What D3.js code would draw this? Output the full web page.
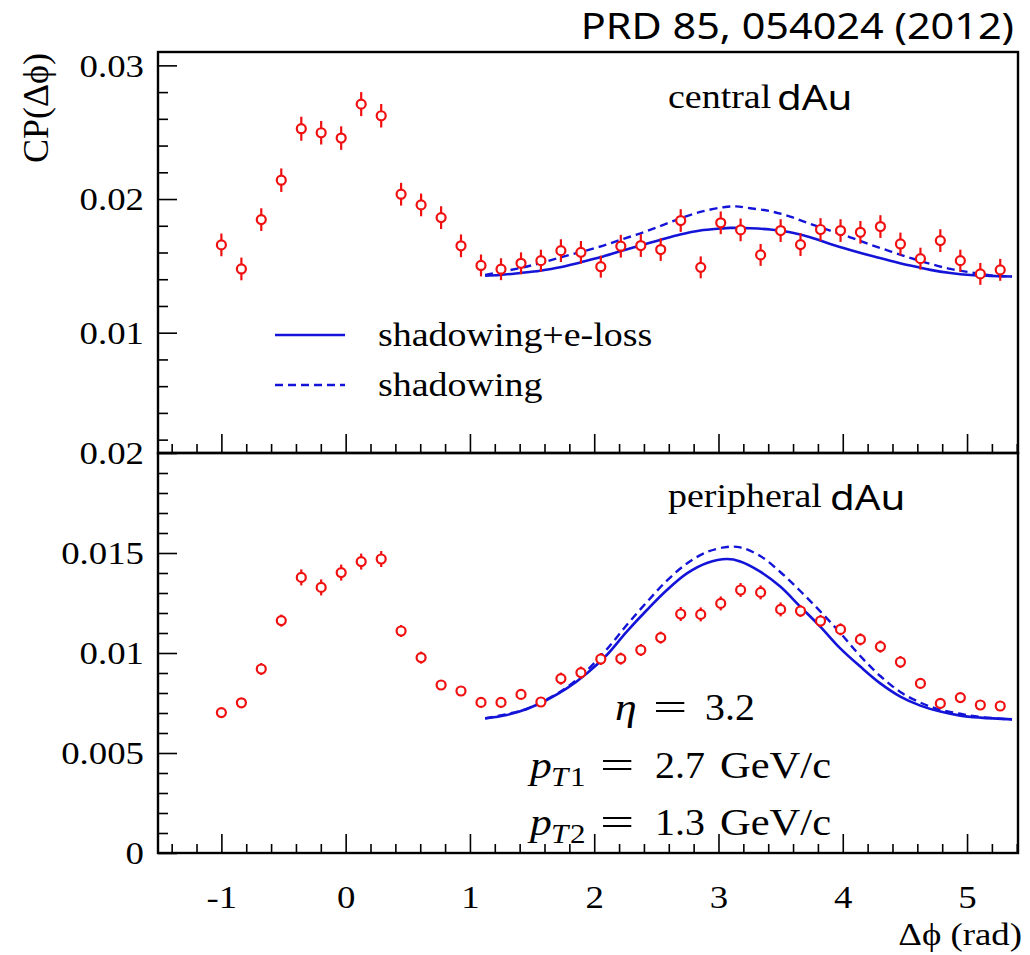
<!DOCTYPE html>
<html>
<head>
<meta charset="utf-8">
<script src="https://cdn.jsdelivr.net/npm/d3@7"></script>
<style>
  body { margin: 0; background: #fff; }
  svg { display: block; }
</style>
</head>
<body>
<svg id="graph"></svg>
<script>
// bin centres in delta phi (rad)
var phiBins = [-1.000, -0.839, -0.679, -0.518, -0.357, -0.197, -0.036, 0.125, 0.286, 0.446,
  0.607, 0.768, 0.928, 1.089, 1.250, 1.411, 1.571, 1.732, 1.893, 2.053,
  2.214, 2.375, 2.535, 2.696, 2.857, 3.018, 3.178, 3.339, 3.500, 3.660,
  3.821, 3.982, 4.142, 4.303, 4.464, 4.625, 4.785, 4.946, 5.107, 5.267];

// central dAu points
var centralCP = [0.01657, 0.01477, 0.01846, 0.02141, 0.02526, 0.02496, 0.02456, 0.02710, 0.02623, 0.02036,
  0.01956, 0.01861, 0.01650, 0.01503, 0.01475, 0.01519, 0.01539, 0.01614, 0.01601, 0.01494,
  0.01647, 0.01652, 0.01622, 0.01839, 0.01489, 0.01822, 0.01769, 0.01582, 0.01764, 0.01659,
  0.01772, 0.01764, 0.01751, 0.01794, 0.01664, 0.01554, 0.01689, 0.01539, 0.01440, 0.01470];
var centralErr = [0.00085, 0.00085, 0.00085, 0.00088, 0.00090, 0.00088, 0.00088, 0.00090, 0.00088, 0.00085,
  0.00085, 0.00085, 0.00085, 0.00082, 0.00082, 0.00082, 0.00082, 0.00085, 0.00085, 0.00082,
  0.00085, 0.00085, 0.00085, 0.00085, 0.00082, 0.00085, 0.00085, 0.00082, 0.00085, 0.00085,
  0.00085, 0.00085, 0.00085, 0.00085, 0.00085, 0.00082, 0.00085, 0.00082, 0.00082, 0.00082];

// peripheral dAu points
var periphCP = [0.00702, 0.00751, 0.00920, 0.01162, 0.01378, 0.01328, 0.01402, 0.01457, 0.01470, 0.01110,
  0.00977, 0.00840, 0.00810, 0.00753, 0.00753, 0.00793, 0.00755, 0.00872, 0.00902, 0.00970,
  0.00972, 0.01015, 0.01077, 0.01195, 0.01193, 0.01248, 0.01315, 0.01303, 0.01218, 0.01210,
  0.01160, 0.01118, 0.01068, 0.01032, 0.00955, 0.00848, 0.00748, 0.00777, 0.00740, 0.00735];
var periphErr = [0.00020, 0.00020, 0.00030, 0.00030, 0.00040, 0.00040, 0.00040, 0.00040, 0.00040, 0.00030,
  0.00030, 0.00025, 0.00025, 0.00025, 0.00025, 0.00025, 0.00025, 0.00030, 0.00030, 0.00030,
  0.00030, 0.00030, 0.00030, 0.00035, 0.00035, 0.00035, 0.00035, 0.00035, 0.00035, 0.00030,
  0.00030, 0.00030, 0.00030, 0.00030, 0.00030, 0.00025, 0.00025, 0.00025, 0.00025, 0.00025];

// model curves, central
var cenSolidX = [1.122, 1.243, 1.404, 1.565, 1.726, 1.887, 2.048, 2.209, 2.370, 2.531, 2.692, 2.853, 3.014, 3.094,
  3.255, 3.416, 3.577, 3.738, 3.899, 4.060, 4.221, 4.382, 4.543, 4.705, 4.866, 5.027, 5.188, 5.362];
var cenSolidY = [0.01427, 0.01432, 0.01447, 0.01464, 0.01489, 0.01526, 0.01564, 0.01609, 0.01652, 0.01694, 0.01734, 0.01764, 0.01779, 0.01784,
  0.01781, 0.01772, 0.01751, 0.01714, 0.01664, 0.01619, 0.01577, 0.01539, 0.01502, 0.01470, 0.01447, 0.01432, 0.01425, 0.01420];
var cenDashX = [1.122, 1.269, 1.430, 1.591, 1.752, 1.913, 2.074, 2.235, 2.396, 2.557, 2.718, 2.879, 3.040, 3.140,
  3.255, 3.416, 3.577, 3.738, 3.899, 4.060, 4.221, 4.382, 4.543, 4.705, 4.866, 5.027, 5.188, 5.362];
var cenDashY = [0.01432, 0.01459, 0.01489, 0.01527, 0.01569, 0.01609, 0.01652, 0.01702, 0.01751, 0.01807, 0.01864, 0.01909, 0.01939, 0.01945,
  0.01931, 0.01909, 0.01869, 0.01814, 0.01764, 0.01714, 0.01659, 0.01609, 0.01560, 0.01515, 0.01477, 0.01452, 0.01429, 0.01420];

// model curves, peripheral
var perSolidX = [1.122, 1.296, 1.457, 1.618, 1.779, 1.940, 2.101, 2.262, 2.424, 2.585, 2.746, 2.907, 3.068, 3.175,
  3.336, 3.497, 3.658, 3.819, 3.980, 4.141, 4.302, 4.463, 4.624, 4.785, 4.946, 5.107, 5.362];
var perSolidY = [0.00673, 0.00690, 0.00720, 0.00765, 0.00823, 0.00898, 0.00990, 0.01107, 0.01215, 0.01315, 0.01398, 0.01450, 0.01470, 0.01458,
  0.01407, 0.01332, 0.01232, 0.01132, 0.01023, 0.00932, 0.00848, 0.00782, 0.00737, 0.00707, 0.00687, 0.00677, 0.00668];
var perDashX = [1.122, 1.457, 1.618, 1.779, 1.940, 2.101, 2.262, 2.424, 2.585, 2.746, 2.907, 3.068, 3.175,
  3.336, 3.497, 3.658, 3.819, 3.980, 4.141, 4.302, 4.463, 4.624, 4.785, 4.946, 5.107, 5.362];
var perDashY = [0.00673, 0.00720, 0.00768, 0.00828, 0.00912, 0.01018, 0.01140, 0.01255, 0.01362, 0.01448, 0.01505, 0.01530, 0.01528,
  0.01485, 0.01405, 0.01310, 0.01208, 0.01100, 0.00985, 0.00885, 0.00805, 0.00752, 0.00716, 0.00696, 0.00680, 0.00668];

var xMajor = [-1, 0, 1, 2, 3, 4, 5];
var topMajor = [0.01, 0.02, 0.03];
var botMajor = [0, 0.005, 0.01, 0.015, 0.02];
var botLabels = ["0", "0.005", "0.01", "0.015", "0.02"];

var W = 1030, H = 955;
var left = 158, right = 1018;
var serif = "'Liberation Serif', 'Times New Roman', serif";
var sans = "'Noto Sans', 'Open Sans', sans-serif";
var red = "#f01010", blue = "#1414d8";

var svg = d3.select("#graph").attr("width", W).attr("height", H);

var x = d3.scaleLinear().domain([-1.51, 5.41]).range([left, right]);
var yTop = d3.scaleLinear().domain([0.001, 0.031]).range([453, 52]);
var yBot = d3.scaleLinear().domain([0, 0.02]).range([853, 453]);

var minorX = d3.range(-1.4, 5.41, 0.2).filter(function(d) { return Math.abs(d - Math.round(d)) > 0.01; });
var minorTop = d3.range(0.002, 0.0305, 0.002).filter(function(d) { return Math.abs(d * 100 - Math.round(d * 100)) > 0.01; });
var minorBot = d3.range(0.001, 0.02, 0.001).filter(function(d) { return Math.abs(d * 200 - Math.round(d * 200)) > 0.01; });

function styleAxis(g, size) {
  g.select(".domain").remove();
  g.selectAll(".tick line").attr("stroke", "#000").attr("stroke-width", 1.6);
  g.selectAll("text").attr("font-family", serif).attr("font-size", size).attr("fill", "#000");
}

function stretch(sel) {
  // the reference is a bit wider than Times, widen the glyphs
  sel.each(function() {
    var t = d3.select(this);
    var tx = +t.attr("x") || 0, ty = +t.attr("y") || 0;
    t.attr("transform", "translate(" + tx + "," + ty + ") scale(1.15,1)").attr("x", 0).attr("y", 0);
  });
}

function txt(str, px, py, size, family, anchor, sx) {
  return svg.append("text")
    .attr("transform", "translate(" + px + "," + py + ") scale(" + (sx || 1.15) + ",1)")
    .attr("font-family", family).attr("font-size", size)
    .attr("text-anchor", anchor || "start").attr("fill", "#000")
    .text(str);
}

function panel(y, yMajor, yMinor, yFmt, cp, err, sx, sy, dx, dy, withXLabels) {
  var g = svg.append("g");

  // y axis
  var ya = g.append("g").attr("transform", "translate(" + left + ",0)")
    .call(d3.axisLeft(y).tickValues(yMajor).tickSize(-19).tickPadding(14).tickFormat(yFmt));
  styleAxis(ya, 32);
  ya.selectAll("text").attr("dy", "0.34em");
  stretch(ya.selectAll("text"));
  var ym = g.append("g").attr("transform", "translate(" + left + ",0)")
    .call(d3.axisLeft(y).tickValues(yMinor).tickSize(-10).tickFormat(""));
  styleAxis(ym, 32);

  // x axis on the lower edge of the panel
  var y0 = y.range()[0];
  var xa = g.append("g").attr("transform", "translate(0," + y0 + ")")
    .call(d3.axisBottom(x).tickValues(xMajor).tickSize(-19).tickPadding(32)
      .tickFormat(withXLabels ? function(d) { return String(d); } : ""));
  styleAxis(xa, 32);
  stretch(xa.selectAll("text"));
  var xm = g.append("g").attr("transform", "translate(0," + y0 + ")")
    .call(d3.axisBottom(x).tickValues(minorX).tickSize(-9).tickFormat(""));
  styleAxis(xm, 32);

  // model curves
  var line = d3.line().curve(d3.curveCatmullRom).x(function(d) { return x(d[0]); }).y(function(d) { return y(d[1]); });
  g.append("path").datum(d3.zip(dx, dy)).attr("d", line)
    .attr("fill", "none").attr("stroke", blue).attr("stroke-width", 2.4).attr("stroke-dasharray", "8,5");
  g.append("path").datum(d3.zip(sx, sy)).attr("d", line)
    .attr("fill", "none").attr("stroke", blue).attr("stroke-width", 2.6);

  // data points
  var pts = g.selectAll(".pt").data(d3.zip(phiBins, cp, err)).enter().append("g");
  pts.append("line")
    .attr("x1", function(d) { return x(d[0]); }).attr("x2", function(d) { return x(d[0]); })
    .attr("y1", function(d) { return y(d[1] - d[2]); }).attr("y2", function(d) { return y(d[1] + d[2]); })
    .attr("stroke", red).attr("stroke-width", 2.2);
  pts.append("circle")
    .attr("cx", function(d) { return x(d[0]); }).attr("cy", function(d) { return y(d[1]); })
    .attr("r", 4.5).attr("fill", "#fff").attr("stroke", red).attr("stroke-width", 2.2);

  // frame
  g.append("rect").attr("x", left).attr("y", y.range()[1])
    .attr("width", right - left).attr("height", y.range()[0] - y.range()[1])
    .attr("fill", "none").attr("stroke", "#000").attr("stroke-width", 2.4);
  return g;
}

panel(yTop, topMajor, minorTop, function(d) { return String(d); },
  centralCP, centralErr, cenSolidX, cenSolidY, cenDashX, cenDashY, false);
panel(yBot, botMajor, minorBot, function(d, i) { return botLabels[i]; },
  periphCP, periphErr, perSolidX, perSolidY, perDashX, perDashY, true);

// axis titles
svg.append("text")
  .attr("transform", "translate(48,53) rotate(-90)")
  .attr("font-family", serif).attr("font-size", 36).attr("text-anchor", "end")
  .text("CP(\u0394\u03d5)");
txt("\u0394\u03d5 (rad)", 1022, 945, 32, serif, "end");

// panel labels
txt("central", 668, 108, 33, serif);
txt("dAu", 777, 110, 35, sans);
txt("peripheral", 668, 507, 33, serif);
txt("dAu", 830, 510, 35, sans);
txt("PRD 85, 054024 (2012)", 1014, 39, 36, sans, "end");

// legend
svg.append("line").attr("x1", 275).attr("x2", 345).attr("y1", 335).attr("y2", 335)
  .attr("stroke", blue).attr("stroke-width", 2.6);
svg.append("line").attr("x1", 275).attr("x2", 345).attr("y1", 385).attr("y2", 385)
  .attr("stroke", blue).attr("stroke-width", 2.4).attr("stroke-dasharray", "8,5");
txt("shadowing+e-loss", 378, 346, 33, serif);
txt("shadowing", 378, 396, 33, serif);

// kinematics
function eqPart(str, px, py, size, italic, sx) {
  return txt(str, px, py, size, serif, "start", sx).attr("font-style", italic ? "italic" : "normal");
}
eqPart("\u03b7", 615, 720, 38, true);
eqPart("=", 653, 720, 38, false, 1.6);
eqPart("3.2", 705, 720, 38, false, 1.05);

[[778, "1", "2.7"], [835, "2", "1.3"]].forEach(function(row) {
  eqPart("p", 530, row[0], 38, true);
  eqPart("T", 551, row[0] + 8, 27, true);
  eqPart(row[1], 570, row[0] + 8, 27, false);
  eqPart("=", 600, row[0], 38, false, 1.6);
  eqPart(row[2], 655, row[0], 38, false, 1.05);
  eqPart("GeV/c", 720, row[0], 38, false, 1.12);
});
</script>
</body>
</html>
